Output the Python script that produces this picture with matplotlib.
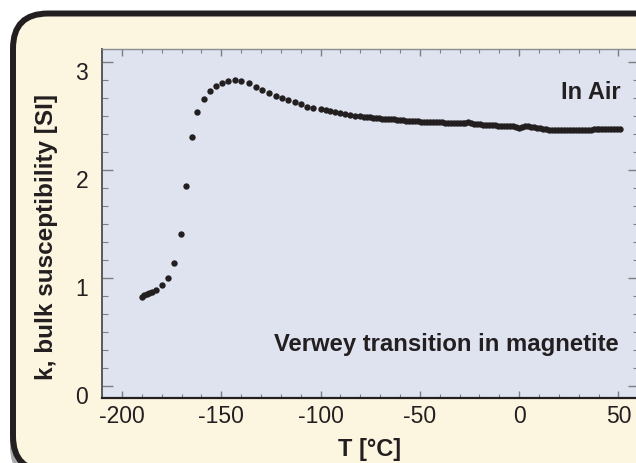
import matplotlib
matplotlib.use('Agg')
import matplotlib.pyplot as plt
from matplotlib import ticker
from matplotlib.patches import FancyBboxPatch
from matplotlib.transforms import IdentityTransform, ScaledTranslation

# temperature [deg C] and bulk susceptibility k [SI]
temp_c = [
    -190.1, -188.9, -187.5, -186.2, -185.0, -182.8, -180.0, -176.9, -173.9, -170.5,
    -167.7, -164.8, -162.0, -158.7, -155.7, -152.9, -149.8, -146.5, -143.3, -139.9,
    -136.2, -132.7, -129.3, -125.9, -122.6, -119.5, -116.2, -113.0, -109.8, -106.7,
    -103.7, -100.0, -97.5, -95.0, -92.5, -90.0, -87.5, -85.0, -82.5, -80.0,
    -78.0, -76.5, -75.0, -73.5, -72.0, -70.5, -69.0, -67.5, -66.0, -64.5,
    -63.0, -61.5, -60.0, -58.5, -57.0, -55.5, -54.0, -52.5, -51.0, -49.5,
    -48.0, -46.5, -45.0, -43.5, -42.0, -40.5, -39.0, -37.5, -36.0, -34.5,
    -33.0, -31.5, -30.0, -28.5, -27.0, -25.5, -24.0, -22.5, -21.0, -19.5,
    -18.0, -16.5, -15.0, -13.5, -12.0, -10.5, -9.0, -7.5, -6.0, -4.5,
    -3.0, -1.5, 0.0, 1.5, 3.0, 4.5, 6.0, 7.5, 9.0, 10.5,
    12.0, 13.5, 15.0, 16.5, 18.0, 19.5, 21.0, 22.5, 24.0, 25.5,
    27.0, 28.5, 30.0, 31.5, 33.0, 34.5, 36.0, 37.5, 39.0, 40.5,
    42.0, 43.5, 45.0, 46.5, 48.0, 49.5, 51.0,
]
k_si = [
    0.827, 0.843, 0.852, 0.861, 0.867, 0.889, 0.932, 1.000, 1.136, 1.410,
    1.849, 2.309, 2.537, 2.660, 2.734, 2.778, 2.806, 2.827, 2.833, 2.827,
    2.803, 2.772, 2.744, 2.716, 2.688, 2.667, 2.648, 2.630, 2.608, 2.585,
    2.572, 2.565, 2.557, 2.547, 2.536, 2.526, 2.515, 2.508, 2.502, 2.498,
    2.494, 2.491, 2.488, 2.484, 2.481, 2.479, 2.476, 2.474, 2.472, 2.470,
    2.469, 2.467, 2.465, 2.461, 2.457, 2.455, 2.453, 2.451, 2.449, 2.447,
    2.446, 2.445, 2.444, 2.443, 2.442, 2.441, 2.440, 2.439, 2.438, 2.437,
    2.436, 2.436, 2.435, 2.434, 2.437, 2.445, 2.432, 2.430, 2.427, 2.424,
    2.421, 2.419, 2.417, 2.415, 2.413, 2.411, 2.409, 2.408, 2.407, 2.405,
    2.403, 2.398, 2.385, 2.400, 2.406, 2.406, 2.402, 2.397, 2.392, 2.386,
    2.380, 2.376, 2.373, 2.371, 2.369, 2.368, 2.367, 2.366, 2.366, 2.366,
    2.367, 2.368, 2.369, 2.370, 2.371, 2.373, 2.374, 2.375, 2.376, 2.377,
    2.378, 2.378, 2.379, 2.379, 2.378, 2.378, 2.377,
]

x_ticks = [-200, -150, -100, -50, 0, 50]
y_ticks = [0, 1, 2, 3]

dark = '#231F20'
grey = '#7D7F82'

plt.rcParams['font.family'] = ['Liberation Sans', 'DejaVu Sans']
plt.rcParams['axes.unicode_minus'] = False

fig = plt.figure(figsize=(6.36, 4.64), dpi=100)
fig.patch.set_facecolor('white')

# rounded frame with a drop shadow, in pixel coordinates
shadow = FancyBboxPatch((13, -18), 700, 457.5,
                        boxstyle='round,pad=0,rounding_size=35',
                        transform=IdentityTransform(),
                        facecolor='#A7A9AC', edgecolor='#A7A9AC',
                        lw=4.3, zorder=-3)
frame = FancyBboxPatch((13, -8), 700, 457.5,
                       boxstyle='round,pad=0,rounding_size=35',
                       transform=IdentityTransform(),
                       facecolor='#FCF6E0', edgecolor=dark,
                       lw=4.3, zorder=-2)
fig.add_artist(shadow)
fig.add_artist(frame)

ax = fig.add_axes([102 / 636, 1 - 399 / 464, 537 / 636, 349 / 464])
ax.set_facecolor('#DFE3EF')

ax.scatter(temp_c, k_si, s=21, color=dark, linewidths=0, zorder=3)

ax.set_xlim(-210.1, 60.4)
ax.set_ylim(-0.111, 3.12)
ax.set_xticks(x_ticks)
ax.set_yticks(y_ticks)
ax.xaxis.set_minor_locator(ticker.MultipleLocator(10))
ax.yaxis.set_minor_locator(ticker.AutoMinorLocator(6))

ax.tick_params(axis='x', which='both', direction='in', top=True, bottom=True,
               color=grey, labelcolor=dark, labelsize=16.5, pad=4)
ax.tick_params(axis='x', which='major', length=5, width=1)
ax.tick_params(axis='x', which='minor', length=3, width=0.8)
ax.tick_params(axis='y', which='both', direction='in', left=True, right=True,
               color=grey, labelcolor=dark, labelsize=16.5, pad=10)
ax.tick_params(axis='y', which='major', length=8, width=1)
ax.tick_params(axis='y', which='minor', length=4, width=0.8)

ax.spines['bottom'].set_color(dark)
ax.spines['bottom'].set_linewidth(1.6)
ax.spines['left'].set_color('#58595B')
ax.spines['left'].set_linewidth(1.4)
ax.spines['top'].set_color('#8A8C8F')
ax.spines['top'].set_linewidth(1.0)
ax.spines['right'].set_visible(False)

# the y tick labels sit a little below their ticks in the original
shift = ScaledTranslation(0, -8 / 100, fig.dpi_scale_trans)
for lbl in ax.get_yticklabels():
    lbl.set_transform(lbl.get_transform() + shift)

ax.set_xlabel('T [°C]', fontsize=17, fontweight='bold', color=dark, va='center')
ax.set_ylabel('k, bulk susceptibility [SI]', fontsize=17.5, fontweight='bold',
              color=dark, va='center')
ax.xaxis.set_label_coords(0.499, -0.146)
ax.yaxis.set_label_coords(-0.104, 0.463)

ax.text(50.9, 2.667, 'In Air', ha='right', va='baseline',
        fontsize=17, fontweight='bold', color=dark)
ax.text(50.4, 0.333, 'Verwey transition in magnetite', ha='right', va='baseline',
        fontsize=17.2, fontweight='bold', color=dark)

fig.savefig('out.png', dpi=100, facecolor=fig.get_facecolor())
